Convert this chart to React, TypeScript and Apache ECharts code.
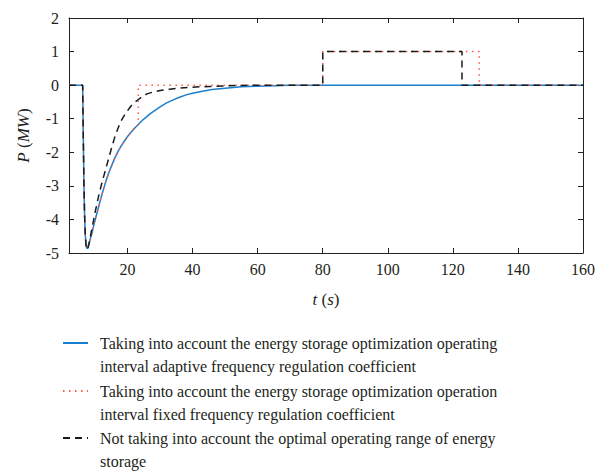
import React, { useEffect, useRef } from "react";
import * as echarts from "echarts";

// Time (s) and power (MW)
const blueT = [2, 6.2, 6.4, 6.6, 6.8, 7.0, 7.2, 7.4, 7.6, 7.8, 8.1, 8.5, 9, 9.5, 10, 11, 12, 13, 14, 15, 16, 17, 18, 19, 20, 21, 22, 23, 24, 25, 26, 27, 28, 30, 32, 34, 36, 38, 40, 43, 46, 50, 55, 60, 65, 70, 160];
const blueP = [0, 0, -1.6, -3.0, -3.9, -4.45, -4.72, -4.84, -4.87, -4.84, -4.75, -4.6, -4.42, -4.22, -4.03, -3.66, -3.3, -2.97, -2.67, -2.42, -2.19, -1.99, -1.82, -1.67, -1.53, -1.41, -1.3, -1.2, -1.1, -1.01, -0.93, -0.85, -0.78, -0.65, -0.53, -0.44, -0.36, -0.29, -0.24, -0.18, -0.13, -0.09, -0.05, -0.03, -0.015, 0, 0];

const redT = [2, 6.2, 6.4, 6.6, 6.8, 7.0, 7.2, 7.4, 7.6, 7.8, 8.1, 8.5, 9, 9.5, 10, 11, 12, 13, 14, 15, 16, 17, 18, 19, 20, 21, 22, 23, 23.3, 23.3, 80, 80, 128.1, 128.1, 160];
const redP = [0, 0, -1.6, -3.0, -3.9, -4.45, -4.72, -4.84, -4.87, -4.84, -4.75, -4.6, -4.42, -4.22, -4.03, -3.66, -3.3, -2.97, -2.67, -2.42, -2.19, -1.99, -1.82, -1.67, -1.53, -1.41, -1.3, -1.2, -1.17, 0, 0, 1, 1, 0, 0];

const blackT = [2, 6.2, 6.4, 6.6, 6.8, 7.0, 7.2, 7.4, 7.6, 7.8, 8.1, 8.5, 9, 9.5, 10, 11, 12, 13, 14, 15, 16, 17, 18, 19, 20, 21, 22, 23, 24, 25, 26, 28, 30, 33, 36, 40, 45, 50, 55, 60, 80, 80, 122.8, 122.8, 160];
const blackP = [0, 0, -1.6, -3.0, -3.9, -4.45, -4.74, -4.87, -4.9, -4.85, -4.74, -4.55, -4.3, -4.05, -3.8, -3.35, -2.95, -2.6, -2.25, -1.9, -1.57, -1.3, -1.07, -0.9, -0.76, -0.63, -0.53, -0.45, -0.38, -0.31, -0.26, -0.2, -0.16, -0.12, -0.09, -0.06, -0.04, -0.02, -0.01, 0, 0, 1, 1, 0, 0];

const seriesNames = [
  "Taking into account the energy storage optimization operating interval adaptive frequency regulation coefficient",
  "Taking into account the energy storage optimization operation interval fixed frequency regulation coefficient",
  "Not taking into account the optimal operating range of energy storage",
];
const legendLines = [
  ["Taking into account the energy storage optimization operating", "interval adaptive frequency regulation coefficient"],
  ["Taking into account the energy storage optimization operation", "interval fixed frequency regulation coefficient"],
  ["Not taking into account the optimal operating range of energy", "storage"],
];

const xTicks = [20, 40, 60, 80, 100, 120, 140, 160];

const FONT = "'Liberation Serif', 'Times New Roman', serif";
const TXT = "#231f20";
const AX = "#222222";

export default function App() {
  const ref = useRef<HTMLDivElement>(null);
  useEffect(() => {
    if (!ref.current) return;
    const chart = echarts.init(ref.current, null, { renderer: "svg" });
    const pair = (t: number[], p: number[]) => t.map((v, i) => [v, p[i]]);
    const axisLineStyle = { show: true, lineStyle: { color: AX, width: 1 } };
    const tickStyle = { show: true, inside: true, length: 5, lineStyle: { color: AX, width: 1 } };
    const legendTops = [308.5, 356.5, 403.5];
    const option: any = {
      animation: false,
      backgroundColor: "#ffffff",
      textStyle: { fontFamily: FONT },
      grid: { left: 69, right: 24, top: 18, bottom: 221 },
      xAxis: [
        {
          type: "value",
          min: 2,
          max: 160,
          position: "bottom",
          axisLine: { ...axisLineStyle, onZero: false },
          axisTick: { ...tickStyle, customValues: xTicks },
          axisLabel: { customValues: xTicks, color: TXT, fontSize: 16, fontFamily: FONT, margin: 8 },
          splitLine: { show: false },
          name: "{i|t} ({i|s})",
          nameLocation: "middle",
          nameGap: 38,
          nameTextStyle: {
            color: TXT,
            fontSize: 17,
            fontFamily: FONT,
            rich: { i: { fontStyle: "italic", fontSize: 17, fontFamily: FONT, color: TXT } },
          },
        },
        {
          type: "value",
          min: 2,
          max: 160,
          position: "top",
          axisLine: { ...axisLineStyle, onZero: false },
          axisTick: { ...tickStyle, customValues: xTicks },
          axisLabel: { show: false },
          splitLine: { show: false },
        },
      ],
      yAxis: [
        {
          type: "value",
          min: -5,
          max: 2,
          interval: 1,
          position: "left",
          axisLine: { ...axisLineStyle, onZero: false },
          axisTick: tickStyle,
          axisLabel: { color: TXT, fontSize: 16, fontFamily: FONT, margin: 10 },
          splitLine: { show: false },
          name: "{i|P} ({i|MW})",
          nameLocation: "middle",
          nameRotate: 90,
          nameGap: 37,
          nameTextStyle: {
            color: TXT,
            fontSize: 17,
            fontFamily: FONT,
            rich: { i: { fontStyle: "italic", fontSize: 17, fontFamily: FONT, color: TXT } },
          },
        },
        {
          type: "value",
          min: -5,
          max: 2,
          interval: 1,
          position: "right",
          axisLine: { ...axisLineStyle, onZero: false },
          axisTick: tickStyle,
          axisLabel: { show: false },
          splitLine: { show: false },
        },
      ],
      legend: seriesNames.map((name, k) => ({
        data: [name],
        orient: "vertical",
        left: 62,
        top: legendTops[k],
        padding: 0,
        itemWidth: 25,
        itemHeight: 10,
        selectedMode: false,
        itemStyle: { opacity: 0 },
        formatter: () => "\n" + legendLines[k].join("\n"),
        textStyle: {
          color: TXT,
          fontSize: 16,
          fontFamily: FONT,
          lineHeight: 23,
          padding: [0, 0, 0, 7],
        },
      })),
      series: [
        {
          name: seriesNames[0],
          type: "line",
          data: pair(blueT, blueP),
          showSymbol: false,
          symbol: "none",
          lineStyle: { color: "#1b7fcf", width: 1.5, type: "solid" },
          itemStyle: { color: "#1b7fcf" },
        },
        {
          name: seriesNames[1],
          type: "line",
          data: pair(redT, redP),
          showSymbol: false,
          symbol: "none",
          lineStyle: { color: "#ff5a45", width: 1.5, type: [1.5, 4.5] },
          itemStyle: { color: "#ff5a45" },
        },
        {
          name: seriesNames[2],
          type: "line",
          data: pair(blackT, blackP),
          showSymbol: false,
          symbol: "none",
          lineStyle: { color: "#1a1a1a", width: 1.5, type: [7, 5] },
          itemStyle: { color: "#1a1a1a" },
        },
      ],
    };
    chart.setOption(option);
    return () => chart.dispose();
  }, []);
  return (
    <div
      ref={ref}
      style={{ position: "fixed", left: 0, top: 0, width: 607, height: 474, background: "#fff" }}
    />
  );
}
